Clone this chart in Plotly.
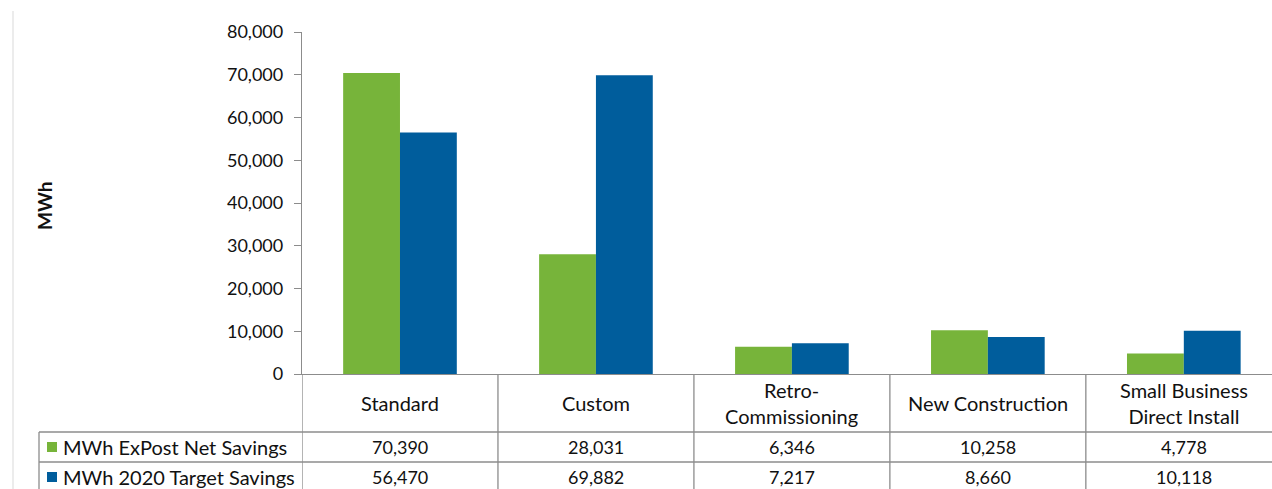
import plotly.graph_objects as go

# Program categories (table header text uses <br> for wrapped names)
categories = ["Standard", "Custom", "Retro-<br>Commissioning", "New Construction",
              "Small Business<br>Direct Install"]
series_names = ["MWh ExPost Net Savings", "MWh 2020 Target Savings"]
expost_net = [70390, 28031, 6346, 10258, 4778]
target_2020 = [56470, 69882, 7217, 8660, 10118]
y_ticks = [0, 10000, 20000, 30000, 40000, 50000, 60000, 70000, 80000]

GREEN = "#77B43A"
BLUE = "#005D9C"
GRID = "#8C8C8C"
INK = "#111111"
FONT = "Lato"

W, H = 1272, 489
X0 = 302          # left edge of plot area (px)
Y_TOP = 32        # y of 80,000 (px from top)
Y_BASE = 374      # y of 0
ROW1 = 432        # top of first data row
ROW2 = 462        # top of second data row
TABLE_LEFT = 39


def py(px):
    """Convert pixel-from-top to paper y."""
    return 1 - px / H


def px_x(px):
    return px / W


xs = list(range(len(categories)))

fig = go.Figure()
fig.add_trace(go.Bar(x=xs, y=expost_net, name=series_names[0], marker_color=GREEN,
                     marker_line_width=0))
fig.add_trace(go.Bar(x=xs, y=target_2020, name=series_names[1], marker_color=BLUE,
                     marker_line_width=0))

shapes = []
# vertical table lines at category boundaries
for i in range(len(categories) + 1):
    shapes.append(dict(type="line", xref="x", yref="paper", x0=i - 0.5, x1=i - 0.5,
                       y0=py(Y_BASE), y1=0, line=dict(color=GRID, width=1.3)))
# horizontal table lines
for yy in (ROW1, ROW2):
    shapes.append(dict(type="line", xref="paper", yref="paper", x0=px_x(TABLE_LEFT), x1=1,
                       y0=py(yy), y1=py(yy), line=dict(color=GRID, width=1.3)))
# left border of the row labels
shapes.append(dict(type="line", xref="paper", yref="paper", x0=px_x(TABLE_LEFT),
                   x1=px_x(TABLE_LEFT), y0=py(ROW1), y1=0,
                   line=dict(color=GRID, width=1.3)))
# outer chart frame line on the left
shapes.append(dict(type="line", xref="paper", yref="paper", x0=px_x(13), x1=px_x(13),
                   y0=py(11), y1=0, line=dict(color="#D9D9D9", width=1)))
# legend keys in the table
for yy, col in ((ROW1, GREEN), (ROW2, BLUE)):
    cy = yy + 15
    shapes.append(dict(type="rect", xref="paper", yref="paper",
                       x0=px_x(47), x1=px_x(57), y0=py(cy + 5), y1=py(cy - 5),
                       fillcolor=col, line=dict(width=0)))

annotations = []
for i, c in enumerate(categories):
    annotations.append(dict(x=i, y=py((Y_BASE + ROW1) / 2), xref="x", yref="paper",
                            text=c, showarrow=False, xanchor="center", yanchor="middle",
                            font=dict(family=FONT, size=20, color=INK)))
for vals, yy in ((expost_net, ROW1), (target_2020, ROW2)):
    for i, v in enumerate(vals):
        annotations.append(dict(x=i, y=py(yy + 15), xref="x", yref="paper",
                                text=f"{v:,}", showarrow=False, xanchor="center",
                                yanchor="middle",
                                font=dict(family=FONT, size=18, color=INK)))
for name, yy in zip(series_names, (ROW1, ROW2)):
    annotations.append(dict(x=px_x(61), y=py(yy + 15), xref="paper", yref="paper",
                            text=name, showarrow=False, xanchor="left", yanchor="middle",
                            font=dict(family=FONT, size=20, color=INK)))
annotations.append(dict(x=px_x(45), y=py(206), xref="paper", yref="paper",
                        text="<b>MWh</b>", showarrow=False, textangle=-90,
                        xanchor="center", yanchor="middle",
                        font=dict(family=FONT, size=19, color=INK)))

fig.update_layout(
    template="none",
    width=W, height=H,
    margin=dict(l=0, r=0, t=0, b=0, pad=0),
    paper_bgcolor="white", plot_bgcolor="white",
    showlegend=False,
    barmode="group", bargap=0.42, bargroupgap=0,
    xaxis=dict(domain=[px_x(X0), 1], range=[-0.5, 4.45], showticklabels=False,
               showgrid=False, zeroline=False, showline=True, linecolor=GRID,
               linewidth=1.3, ticks="", automargin=False),
    yaxis=dict(domain=[py(Y_BASE), py(Y_TOP)], range=[0, 80000], tickvals=y_ticks,
               tickformat=",", showgrid=False, zeroline=False, showline=True,
               linecolor=GRID, linewidth=1.3, ticks="outside", ticklen=7,
               tickcolor=GRID, tickwidth=1.3, ticklabelstandoff=7, automargin=False,
               tickfont=dict(family=FONT, size=18, color=INK)),
    shapes=shapes,
    annotations=annotations,
)

fig.write_html("out.html")
